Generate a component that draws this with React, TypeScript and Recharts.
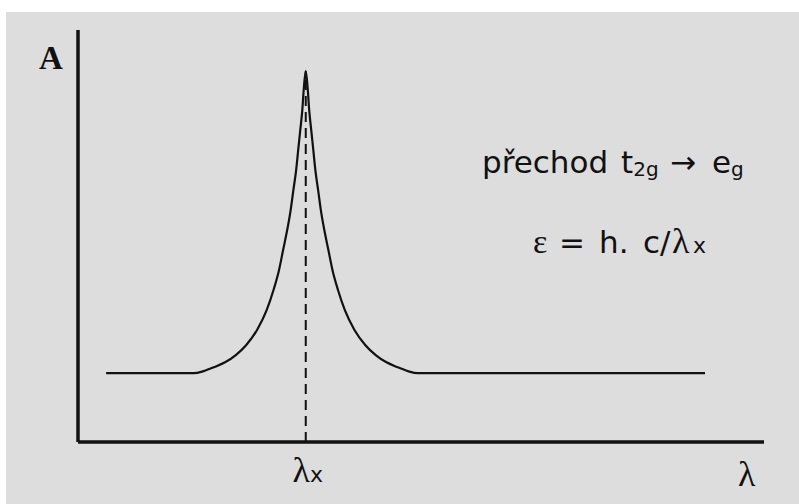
import React from 'react';
import { LineChart, Line, XAxis, YAxis, ReferenceLine } from 'recharts';

// wavelength (arbitrary units) and absorbance (arbitrary units)
const wavelength = [
  4.1, 16.9, 18.3, 19.9, 21.5, 23.0, 24.5, 26.1, 27.5, 28.5, 29.3, 29.9, 30.5, 31.0, 31.4, 31.8,
  32.1, 32.4, 32.7, 32.9, 33.2,
  33.5, 33.7, 34.0, 34.3, 34.6, 35.0, 35.4, 35.9, 36.5, 37.1, 37.9, 38.9, 40.3, 41.9, 43.4,
  44.9, 46.5, 48.1, 49.5, 91.4,
];
const absorbance = [
  16.7, 16.7, 17.2, 18.2, 19.4, 21.1, 23.5, 27.2, 32.0, 36.9, 41.7, 46.6, 51.5, 56.3, 61.2, 66.0,
  70.9, 75.7, 80.6, 85.4, 90.0,
  85.4, 80.6, 75.7, 70.9, 66.0, 61.2, 56.3, 51.5, 46.6, 41.7, 36.9, 32.0, 27.2, 23.5, 21.1,
  19.4, 18.2, 17.2, 16.7, 16.7,
];
const peakWavelength = 33.2;
const peakAbsorbance = 90.0;
const xTicks = [peakWavelength];
const xTickLabel = { main: 'λ', sub: 'x' };
const yAxisLabel = 'A';
const xAxisLabel = 'λ';

const data = wavelength.map((w, i) => ({ w, a: absorbance[i] }));

const W = 799;
const H = 504;
const SANS = '"DejaVu Sans", Verdana, sans-serif';
const SERIF = '"Liberation Serif", "Times New Roman", serif';
const INK = '#111111';

function LambdaTick(props: any) {
  const { x, y } = props;
  return (
    <text x={x + 2} y={y + 32} textAnchor="middle" fill={INK}>
      <tspan fontFamily={SERIF} fontSize={36}>{xTickLabel.main}</tspan>
      <tspan fontFamily={SANS} fontSize={22}>{xTickLabel.sub}</tspan>
    </text>
  );
}

export default function App() {
  return (
    <div style={{ position: 'fixed', left: 0, top: 0, width: W, height: H, background: '#ffffff', overflow: 'hidden' }}>
      <div style={{ position: 'absolute', left: 6, top: 12, right: 0, bottom: 0, background: '#dddddd' }} />
      <div style={{ position: 'absolute', left: 0, top: 0 }}>
        <LineChart width={W} height={H} data={data} margin={{ top: 30, right: 35, bottom: 22, left: 78 }}>
          <XAxis
            dataKey="w"
            type="number"
            domain={[0, 100]}
            ticks={xTicks}
            tick={<LambdaTick />}
            tickLine={false}
            axisLine={{ stroke: INK, strokeWidth: 3.5 }}
            height={40}
            interval={0}
          />
          <YAxis type="number" domain={[0, 100]} hide width={0} />
          <ReferenceLine x={0} stroke={INK} strokeWidth={3.5} />
          <ReferenceLine
            segment={[{ x: peakWavelength, y: 0 }, { x: peakWavelength, y: peakAbsorbance }]}
            stroke={INK}
            strokeWidth={2}
            strokeDasharray="10 6"
          />
          <Line
            dataKey="a"
            type="monotone"
            stroke="#111111"
            strokeWidth={2.2}
            dot={false}
            isAnimationActive={false}
          />
        </LineChart>
      </div>
      <svg width={W} height={H} style={{ position: 'absolute', left: 0, top: 0, pointerEvents: 'none' }}>
        <text x={39} y={69} fontFamily={SERIF} fontWeight="bold" fontSize={33} fill={INK}>{yAxisLabel}</text>
        <text x={738} y={486} fontFamily={SERIF} fontSize={36} fill={INK}>{xAxisLabel}</text>
        <text y={173} fontFamily={SANS} fontSize={31} fill={INK}>
          <tspan x={482}>přechod</tspan>
          <tspan x={621}>t</tspan>
          <tspan fontSize={20} dy={3}>2g</tspan>
          <tspan x={670} dy={-3}>→</tspan>
          <tspan x={712}>e</tspan>
          <tspan fontSize={20} dy={3}>g</tspan>
        </text>
        <text y={253} fontSize={31} fill={INK}>
          <tspan x={533} fontFamily={SERIF} fontSize={34}>ε</tspan>
          <tspan x={559} fontFamily={SANS}>=</tspan>
          <tspan x={599} fontFamily={SANS}>h.</tspan>
          <tspan x={643} fontFamily={SANS}>c/</tspan>
          <tspan x={672} fontFamily={SERIF} fontSize={36}>λ</tspan>
          <tspan x={693} fontFamily={SANS} fontSize={22}>x</tspan>
        </text>
      </svg>
    </div>
  );
}
